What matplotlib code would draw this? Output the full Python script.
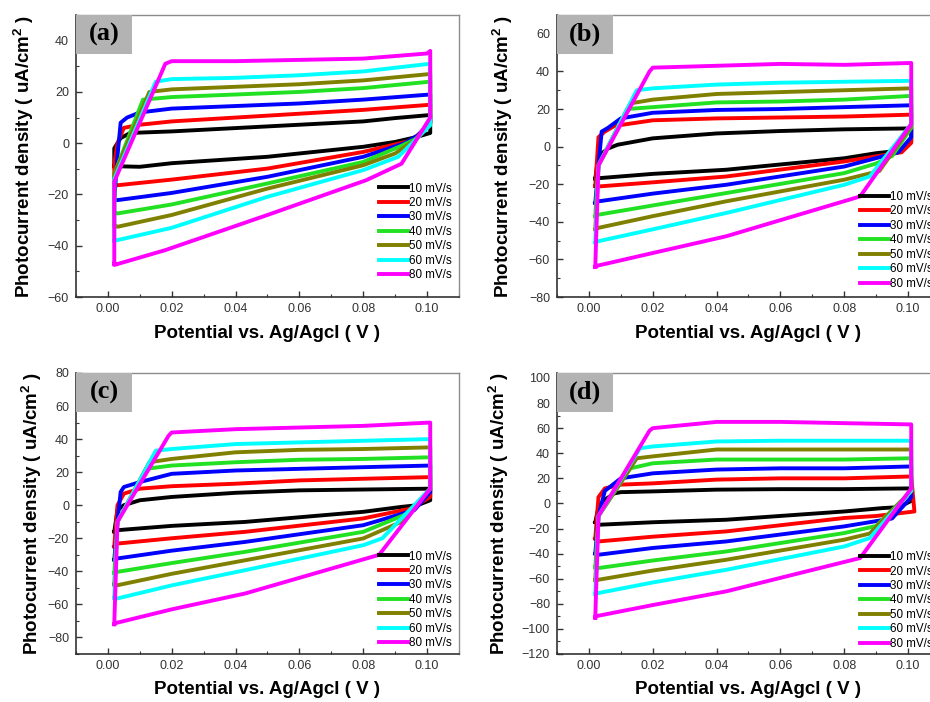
import numpy as np
import matplotlib.pyplot as plt
from matplotlib.patches import Rectangle
from matplotlib.ticker import MultipleLocator, FormatStrFormatter

plt.rcParams['font.family'] = ['Liberation Sans', 'DejaVu Sans']
plt.rcParams['mathtext.fontset'] = 'custom'
plt.rcParams['mathtext.rm'] = 'Liberation Sans'
plt.rcParams['mathtext.bf'] = 'Liberation Sans:bold'

###################################################################
#   Data: CV loops, (potential V, current uA/cm2) vertices
###################################################################

rates = ["10 mV/s", "20 mV/s", "30 mV/s", "40 mV/s", "50 mV/s", "60 mV/s", "80 mV/s"]
colors = ["#000000", "#ff0000", "#0000ff", "#22e022", "#808000", "#00ffff", "#ff00ff"]

loops_a = [
    [(0.002, -9), (0.002, -2), (0.004, 2), (0.007, 4), (0.02, 4.6), (0.04, 5.9), (0.06, 7.2), (0.08, 8.5),
     (0.09, 9.8), (0.101, 11), (0.101, 4), (0.097, 2.5), (0.09, 0.5), (0.08, -1.4), (0.05, -5.3),
     (0.02, -7.8), (0.01, -9.2), (0.003, -9)],
    [(0.002, -16), (0.002, -8), (0.003, 0), (0.005, 6), (0.01, 7.2), (0.02, 8.5), (0.04, 10), (0.06, 11.5),
     (0.08, 13), (0.101, 15), (0.101, 8), (0.098, 4), (0.095, 1), (0.08, -3.4), (0.05, -9.9), (0.02, -14.2),
     (0.003, -16.4)],
    [(0.002, -22), (0.003, -5), (0.004, 8), (0.006, 10), (0.01, 12), (0.02, 13.5), (0.04, 14.5), (0.06, 15.5),
     (0.08, 17), (0.101, 19), (0.101, 8), (0.097, 3), (0.093, 0), (0.08, -5.3), (0.05, -13.1), (0.02, -19.4),
     (0.003, -22.2)],
    [(0.002, -27), (0.002, -12), (0.011, 17), (0.02, 18), (0.04, 19), (0.06, 20), (0.08, 21.5), (0.101, 24),
     (0.101, 8), (0.097, 2), (0.092, -1), (0.08, -7.3), (0.05, -15.7), (0.02, -23.9), (0.003, -27.4)],
    [(0.002, -32), (0.002, -12), (0.013, 20), (0.02, 21), (0.04, 22), (0.06, 23), (0.08, 24.5), (0.101, 27),
     (0.101, 8), (0.096, 1), (0.09, -4), (0.08, -8.6), (0.05, -17.7), (0.02, -28), (0.003, -32.6)],
    [(0.002, -38), (0.002, -14), (0.015, 24), (0.02, 25), (0.04, 25.5), (0.06, 26.5), (0.08, 28), (0.101, 31),
     (0.101, 7), (0.091, -5.3), (0.08, -10.5), (0.05, -20.9), (0.02, -33), (0.003, -37.8)],
    [(0.002, -47), (0.002, -15), (0.018, 31), (0.02, 32), (0.04, 32), (0.06, 32.5), (0.08, 33), (0.1, 35),
     (0.101, 36), (0.101, 10), (0.092, -8), (0.081, -14.4), (0.05, -28), (0.018, -41.7), (0.002, -47.5)],
]

loops_b = [
    [(0.002, -17), (0.003, -5), (0.006, -1), (0.009, 1), (0.02, 4.4), (0.04, 7), (0.06, 8.3), (0.08, 9.2),
     (0.101, 9.7), (0.101, 3), (0.098, -2), (0.09, -3.5), (0.08, -6.2), (0.043, -12.3), (0.02, -14.5),
     (0.003, -16.8)],
    [(0.002, -21), (0.003, 5), (0.005, 8), (0.008, 11), (0.02, 14), (0.04, 15), (0.06, 15.5), (0.08, 16),
     (0.101, 17), (0.101, 2), (0.098, -3), (0.08, -7.9), (0.043, -15.9), (0.02, -19), (0.003, -21.2)],
    [(0.002, -30), (0.003, -10), (0.004, 8), (0.006, 10), (0.01, 15), (0.02, 18), (0.04, 19.5), (0.06, 20),
     (0.08, 21), (0.101, 22), (0.101, 5), (0.097, -3), (0.08, -10.6), (0.043, -20.3), (0.02, -25),
     (0.003, -29.1)],
    [(0.002, -37), (0.003, -10), (0.012, 20), (0.02, 21), (0.04, 23.5), (0.06, 24), (0.08, 25), (0.101, 27),
     (0.101, 10), (0.095, -5), (0.09, -9), (0.08, -14.1), (0.043, -24.7), (0.02, -31.3), (0.003, -36.2)],
    [(0.002, -44), (0.003, -10), (0.013, 23), (0.02, 25), (0.04, 28), (0.06, 29), (0.08, 30), (0.101, 31),
     (0.101, 11), (0.091, -13), (0.08, -17.6), (0.043, -29.1), (0.02, -37), (0.003, -43.2)],
    [(0.002, -51), (0.003, -10), (0.015, 30), (0.02, 31), (0.04, 33), (0.06, 34), (0.08, 34.5), (0.101, 35),
     (0.101, 12), (0.088, -15.9), (0.08, -20.3), (0.043, -35.3), (0.02, -44), (0.003, -50.3)],
    [(0.002, -64), (0.003, -10), (0.019, 40), (0.02, 42), (0.04, 43), (0.06, 44), (0.08, 43.5), (0.101, 44.5),
     (0.101, 12), (0.085, -26.5), (0.043, -47.7), (0.02, -56.6), (0.002, -63.6)],
]

loops_c = [
    [(0.002, -16), (0.003, -3), (0.005, 0), (0.01, 3), (0.02, 5), (0.04, 7.5), (0.06, 9), (0.08, 9.5),
     (0.101, 10), (0.101, 3), (0.097, 0), (0.092, -1), (0.08, -4), (0.043, -10.1), (0.02, -12.5),
     (0.003, -15.1)],
    [(0.002, -25), (0.003, 0), (0.005, 7), (0.01, 10), (0.02, 11.5), (0.04, 13), (0.06, 15), (0.08, 16),
     (0.101, 17), (0.101, 5), (0.095, -2), (0.08, -8), (0.043, -16.1), (0.02, -20), (0.003, -23.2)],
    [(0.002, -33), (0.003, -10), (0.004, 8), (0.005, 11), (0.01, 14), (0.02, 19), (0.04, 21), (0.06, 22),
     (0.08, 23), (0.101, 24), (0.101, 8), (0.096, -3), (0.08, -12.1), (0.043, -22.2), (0.02, -27.5),
     (0.003, -32.2)],
    [(0.002, -41), (0.003, -10), (0.012, 22), (0.02, 24), (0.04, 26), (0.06, 27.5), (0.08, 28), (0.101, 29),
     (0.101, 10), (0.094, -5), (0.08, -16.1), (0.043, -28.2), (0.02, -35), (0.003, -40.3)],
    [(0.002, -48), (0.003, -10), (0.013, 26), (0.02, 28), (0.04, 32), (0.06, 33.5), (0.08, 34), (0.101, 35),
     (0.101, 10), (0.092, -10), (0.08, -20.1), (0.043, -33.3), (0.02, -41.5), (0.003, -48.4)],
    [(0.002, -56), (0.003, -10), (0.015, 33), (0.02, 34), (0.04, 37), (0.06, 38), (0.08, 39), (0.101, 40),
     (0.101, 10), (0.086, -20), (0.08, -24.2), (0.043, -39.3), (0.02, -48.5), (0.003, -56.4)],
    [(0.002, -72), (0.003, -10), (0.019, 42), (0.02, 44), (0.04, 46), (0.06, 47), (0.08, 48), (0.101, 50),
     (0.101, 10), (0.085, -30), (0.043, -53.4), (0.02, -63), (0.002, -71.5)],
]

loops_d = [
    [(0.002, -15), (0.003, -3), (0.005, 3), (0.008, 8), (0.01, 9), (0.02, 9.6), (0.04, 11), (0.06, 11.4),
     (0.08, 11.4), (0.101, 12), (0.101, 2), (0.097, -3), (0.092, -3.7), (0.08, -6.4), (0.043, -13),
     (0.02, -15), (0.003, -17)],
    [(0.002, -28), (0.003, 5), (0.005, 12), (0.01, 15), (0.02, 16), (0.04, 19), (0.06, 20), (0.08, 20),
     (0.101, 21.5), (0.102, -6.4), (0.09, -10), (0.08, -11.6), (0.043, -22.3), (0.02, -26.5), (0.003, -30.3)],
    [(0.002, -40), (0.003, -10), (0.005, 10), (0.01, 20), (0.02, 24), (0.04, 27), (0.06, 28), (0.08, 28),
     (0.101, 29.5), (0.101, 5), (0.095, -12), (0.08, -18.3), (0.043, -30.3), (0.02, -35.5), (0.003, -40.9)],
    [(0.002, -51), (0.003, -10), (0.013, 28), (0.02, 32), (0.04, 35), (0.06, 35), (0.08, 35), (0.101, 36),
     (0.101, 10), (0.09, -18), (0.08, -23.6), (0.043, -38.3), (0.02, -45.5), (0.003, -51.5)],
    [(0.002, -61), (0.003, -10), (0.015, 36), (0.02, 37.5), (0.04, 43), (0.06, 43), (0.08, 43), (0.101, 43),
     (0.101, 10), (0.088, -24), (0.08, -28.9), (0.043, -44.9), (0.02, -53.5), (0.003, -60.8)],
    [(0.002, -72), (0.003, -10), (0.016, 44), (0.02, 45.4), (0.04, 49.4), (0.06, 50), (0.08, 50), (0.101, 50),
     (0.101, 10), (0.088, -27.6), (0.08, -34.3), (0.043, -52.9), (0.02, -63), (0.003, -71.4)],
    [(0.002, -91), (0.003, -10), (0.019, 58), (0.02, 60), (0.04, 65), (0.06, 65), (0.08, 64), (0.101, 63),
     (0.101, 12), (0.085, -43.5), (0.043, -70.1), (0.02, -81), (0.002, -90)],
]

###################################################################
#   One panel
###################################################################
def plot_panel(fig, rect, loops, ylim, tag, ylab_x, leg_y):
    ax = fig.add_axes(rect)

    for loop, c, lab in zip(loops, colors, rates):
        pts = np.array(loop + [loop[0]])
        ax.plot(pts[:, 0], pts[:, 1], color=c, lw=2.8, label=lab, solid_joinstyle='round')

    ax.set_xlim(-0.01, 0.11)
    ax.set_ylim(*ylim)
    ax.xaxis.set_major_locator(MultipleLocator(0.02))
    ax.xaxis.set_minor_locator(MultipleLocator(0.01))
    ax.xaxis.set_major_formatter(FormatStrFormatter('%.2f'))
    ax.yaxis.set_major_locator(MultipleLocator(20))
    ax.yaxis.set_minor_locator(MultipleLocator(10))
    ax.tick_params(which='both', direction='in', top=False, right=False, colors='#333333', labelsize=9)
    ax.tick_params(which='major', length=4, width=1)
    ax.tick_params(which='minor', length=2.5, width=0.8)
    ax.tick_params(axis='x', pad=4)
    ax.tick_params(axis='y', pad=5)

    for s in ['left', 'bottom']:
        ax.spines[s].set_color('#333333')
        ax.spines[s].set_linewidth(1.2)
    for s in ['top', 'right']:
        ax.spines[s].set_color('#8c8c8c')
        ax.spines[s].set_linewidth(1.0)

    ax.set_xlabel("Potential vs. Ag/Agcl ( V )", fontsize=13.5, fontweight='bold', va='center')
    ax.set_ylabel("Photocurrent density ( uA/cm$^{\\mathbf{2}}$ )", fontsize=13.5, fontweight='bold',
                  va='center')
    ax.xaxis.set_label_coords(0.5, -0.128)
    ax.yaxis.set_label_coords(ylab_x, 0.5)

    # grey tag in the corner
    ax.add_patch(Rectangle((0, 0.862), 0.146, 0.138, transform=ax.transAxes,
                           facecolor='#b3b3b3', edgecolor='none', zorder=5))
    ax.text(0.073, 0.931, tag, transform=ax.transAxes, ha='center', va='center',
            fontsize=19, fontweight='bold', family='Liberation Serif', zorder=6)

    ax.legend(loc='lower left', bbox_to_anchor=(0.79, leg_y), frameon=False, fontsize=8.4,
              handlelength=2.5, handletextpad=0.1, labelspacing=0.21, borderpad=0, borderaxespad=0)
    return ax


fig = plt.figure(figsize=(9.3, 7.02), dpi=100)

plot_panel(fig, [0.0817, 0.5769, 0.4118, 0.4017], loops_a, (-60, 50), "(a)", -0.136, 0.056)
plot_panel(fig, [0.5989, 0.5769, 0.4118, 0.4017], loops_b, (-80, 70), "(b)", -0.141, 0.026)
plot_panel(fig, [0.0817, 0.0684, 0.4118, 0.4003], loops_c, (-90, 80), "(c)", -0.115, 0.017)
plot_panel(fig, [0.5989, 0.0684, 0.4118, 0.4003], loops_d, (-120, 104), "(d)", -0.153, 0.015)

fig.savefig("out.png", dpi=100)
